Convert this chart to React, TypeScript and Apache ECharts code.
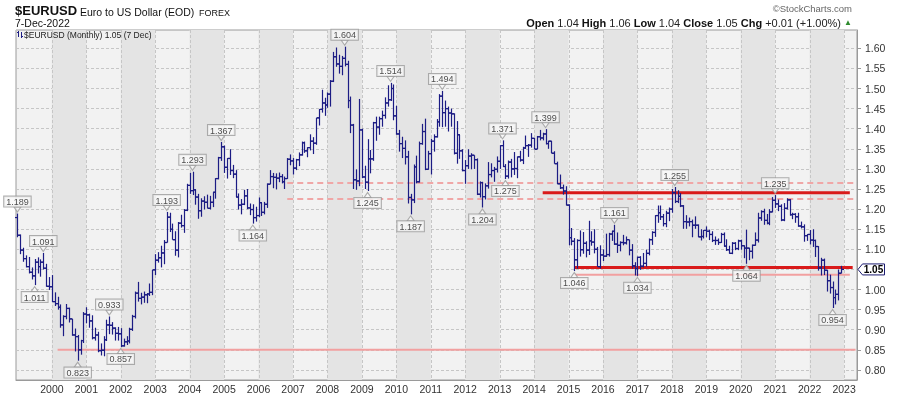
import React, { useEffect, useRef } from 'react';
import * as echarts from 'echarts';

const FONT = '"Liberation Sans", Arial, sans-serif';

// Monthly bars: [open, high, low, close]
const y1999 = [[1.179,1.189,1.130,1.135],[1.135,1.137,1.088,1.098],[1.098,1.104,1.069,1.077],[1.077,1.085,1.055,1.057],[1.057,1.081,1.040,1.043],[1.043,1.055,1.025,1.034],[1.034,1.076,1.011,1.068],[1.068,1.080,1.040,1.057],[1.057,1.075,1.032,1.068],[1.068,1.091,1.050,1.053],[1.053,1.064,1.007,1.008],[1.008,1.031,0.999,1.007]];
const y2000 = [[1.007,1.036,0.969,0.970],[0.970,0.993,0.959,0.965],[0.965,0.982,0.950,0.956],[0.956,0.963,0.905,0.912],[0.912,0.936,0.884,0.933],[0.933,0.964,0.926,0.953],[0.953,0.955,0.918,0.927],[0.927,0.927,0.885,0.887],[0.887,0.903,0.846,0.883],[0.883,0.887,0.823,0.850],[0.850,0.875,0.838,0.873],[0.873,0.944,0.867,0.939]];
const y2001 = [[0.939,0.956,0.916,0.937],[0.937,0.940,0.905,0.922],[0.922,0.936,0.876,0.880],[0.880,0.905,0.873,0.887],[0.887,0.895,0.844,0.848],[0.848,0.866,0.836,0.849],[0.849,0.884,0.834,0.875],[0.875,0.925,0.872,0.912],[0.912,0.933,0.889,0.911],[0.911,0.919,0.888,0.904],[0.904,0.906,0.873,0.891],[0.891,0.907,0.873,0.890]];
const y2002 = [[0.890,0.904,0.857,0.860],[0.860,0.878,0.858,0.870],[0.870,0.884,0.862,0.872],[0.872,0.905,0.866,0.901],[0.901,0.937,0.897,0.933],[0.933,0.995,0.928,0.991],[0.991,1.019,0.970,0.978],[0.978,0.992,0.963,0.981],[0.981,0.995,0.967,0.987],[0.987,0.991,0.966,0.989],[0.989,1.015,0.984,0.993],[0.993,1.049,0.986,1.049]];
const y2003 = [[1.049,1.088,1.036,1.073],[1.073,1.093,1.067,1.079],[1.079,1.109,1.055,1.091],[1.091,1.123,1.063,1.117],[1.117,1.193,1.117,1.180],[1.180,1.191,1.143,1.150],[1.150,1.164,1.124,1.124],[1.124,1.145,1.084,1.098],[1.098,1.168,1.080,1.165],[1.165,1.186,1.154,1.159],[1.159,1.200,1.141,1.197],[1.197,1.263,1.195,1.259]];
const y2004 = [[1.259,1.290,1.238,1.246],[1.246,1.293,1.235,1.248],[1.248,1.249,1.211,1.230],[1.230,1.238,1.176,1.196],[1.196,1.227,1.181,1.220],[1.220,1.232,1.199,1.217],[1.217,1.236,1.202,1.202],[1.202,1.233,1.199,1.217],[1.217,1.242,1.205,1.242],[1.242,1.277,1.226,1.276],[1.276,1.330,1.274,1.328],[1.328,1.367,1.320,1.355]];
const y2005 = [[1.355,1.358,1.290,1.304],[1.304,1.327,1.276,1.326],[1.326,1.349,1.285,1.296],[1.296,1.310,1.277,1.287],[1.287,1.297,1.230,1.230],[1.230,1.239,1.199,1.210],[1.210,1.225,1.187,1.212],[1.212,1.248,1.210,1.233],[1.233,1.250,1.200,1.203],[1.203,1.214,1.185,1.199],[1.199,1.212,1.164,1.179],[1.179,1.206,1.169,1.184]];
const y2006 = [[1.184,1.229,1.180,1.216],[1.216,1.216,1.183,1.192],[1.192,1.218,1.187,1.212],[1.212,1.264,1.203,1.262],[1.262,1.297,1.262,1.281],[1.281,1.290,1.252,1.279],[1.279,1.289,1.249,1.277],[1.277,1.291,1.267,1.281],[1.281,1.287,1.264,1.268],[1.268,1.281,1.250,1.276],[1.276,1.327,1.275,1.324],[1.324,1.336,1.309,1.320]];
const y2007 = [[1.320,1.327,1.286,1.302],[1.302,1.325,1.297,1.323],[1.323,1.341,1.307,1.335],[1.335,1.368,1.333,1.365],[1.365,1.368,1.340,1.345],[1.345,1.354,1.329,1.353],[1.353,1.386,1.346,1.369],[1.369,1.379,1.337,1.364],[1.364,1.427,1.360,1.427],[1.427,1.449,1.408,1.448],[1.448,1.497,1.440,1.464],[1.464,1.477,1.432,1.459]];
const y2008 = [[1.459,1.490,1.452,1.486],[1.486,1.521,1.455,1.518],[1.518,1.591,1.516,1.579],[1.579,1.602,1.554,1.561],[1.561,1.584,1.537,1.555],[1.555,1.581,1.533,1.575],[1.575,1.604,1.555,1.560],[1.560,1.569,1.451,1.470],[1.470,1.480,1.389,1.409],[1.409,1.412,1.250,1.273],[1.273,1.299,1.248,1.270],[1.270,1.474,1.257,1.397]];
const y2009 = [[1.397,1.400,1.277,1.280],[1.280,1.308,1.250,1.267],[1.267,1.374,1.245,1.325],[1.325,1.347,1.289,1.325],[1.325,1.417,1.320,1.415],[1.415,1.430,1.370,1.404],[1.404,1.430,1.385,1.425],[1.425,1.445,1.405,1.433],[1.433,1.478,1.425,1.464],[1.464,1.508,1.455,1.472],[1.472,1.514,1.469,1.500],[1.500,1.510,1.421,1.432]];
const y2010 = [[1.432,1.457,1.385,1.387],[1.387,1.397,1.343,1.363],[1.363,1.380,1.327,1.351],[1.351,1.371,1.311,1.330],[1.330,1.345,1.214,1.229],[1.229,1.238,1.187,1.223],[1.223,1.311,1.215,1.305],[1.305,1.333,1.264,1.268],[1.268,1.368,1.266,1.363],[1.363,1.412,1.360,1.393],[1.393,1.425,1.297,1.299],[1.299,1.345,1.298,1.338]];
const y2011 = [[1.338,1.375,1.286,1.369],[1.369,1.386,1.343,1.380],[1.380,1.424,1.378,1.417],[1.417,1.486,1.405,1.481],[1.481,1.494,1.404,1.440],[1.440,1.470,1.405,1.450],[1.450,1.455,1.393,1.439],[1.439,1.450,1.405,1.437],[1.437,1.438,1.336,1.339],[1.339,1.419,1.313,1.385],[1.385,1.385,1.325,1.345],[1.345,1.349,1.294,1.296]];
const y2012 = [[1.296,1.322,1.263,1.308],[1.308,1.349,1.300,1.332],[1.332,1.339,1.299,1.334],[1.334,1.334,1.300,1.323],[1.323,1.326,1.235,1.237],[1.237,1.269,1.229,1.266],[1.266,1.268,1.204,1.231],[1.231,1.264,1.224,1.258],[1.258,1.317,1.251,1.286],[1.286,1.314,1.279,1.296],[1.296,1.305,1.268,1.299],[1.299,1.331,1.291,1.319]];
const y2013 = [[1.319,1.359,1.300,1.358],[1.358,1.371,1.305,1.306],[1.306,1.312,1.275,1.282],[1.282,1.321,1.276,1.317],[1.317,1.325,1.279,1.300],[1.300,1.342,1.285,1.301],[1.301,1.331,1.277,1.330],[1.330,1.345,1.318,1.322],[1.322,1.355,1.312,1.352],[1.352,1.383,1.350,1.358],[1.358,1.362,1.330,1.359],[1.359,1.389,1.353,1.376]];
const y2014 = [[1.376,1.377,1.349,1.349],[1.349,1.382,1.349,1.380],[1.380,1.397,1.371,1.377],[1.377,1.390,1.371,1.387],[1.387,1.399,1.361,1.363],[1.363,1.370,1.350,1.369],[1.369,1.370,1.339,1.339],[1.339,1.344,1.313,1.313],[1.313,1.318,1.262,1.263],[1.263,1.286,1.250,1.253],[1.253,1.261,1.236,1.245],[1.245,1.257,1.209,1.210]];
const y2015 = [[1.210,1.212,1.110,1.129],[1.129,1.153,1.110,1.120],[1.120,1.128,1.046,1.074],[1.074,1.125,1.052,1.122],[1.122,1.147,1.082,1.099],[1.099,1.143,1.089,1.115],[1.115,1.120,1.080,1.098],[1.098,1.171,1.086,1.121],[1.121,1.145,1.109,1.118],[1.118,1.150,1.090,1.100],[1.100,1.106,1.057,1.057],[1.057,1.110,1.052,1.086]];
const y2016 = [[1.086,1.100,1.071,1.083],[1.083,1.139,1.081,1.087],[1.087,1.141,1.082,1.138],[1.138,1.146,1.121,1.145],[1.145,1.161,1.111,1.113],[1.113,1.142,1.091,1.110],[1.110,1.120,1.095,1.117],[1.117,1.136,1.110,1.116],[1.116,1.132,1.112,1.124],[1.124,1.124,1.085,1.098],[1.098,1.113,1.052,1.059],[1.059,1.068,1.035,1.052]];
const y2017 = [[1.052,1.082,1.034,1.080],[1.080,1.083,1.049,1.058],[1.058,1.091,1.055,1.065],[1.065,1.099,1.057,1.090],[1.090,1.127,1.085,1.124],[1.124,1.145,1.111,1.142],[1.142,1.185,1.131,1.184],[1.184,1.209,1.166,1.191],[1.191,1.209,1.173,1.181],[1.181,1.188,1.157,1.164],[1.164,1.196,1.155,1.190],[1.190,1.204,1.170,1.200]];
const y2018 = [[1.200,1.250,1.191,1.241],[1.241,1.255,1.215,1.219],[1.219,1.247,1.215,1.232],[1.232,1.240,1.205,1.208],[1.208,1.210,1.151,1.169],[1.169,1.185,1.151,1.168],[1.168,1.179,1.157,1.169],[1.169,1.174,1.130,1.160],[1.160,1.182,1.151,1.160],[1.160,1.162,1.130,1.131],[1.131,1.150,1.122,1.132],[1.132,1.148,1.127,1.147]];
const y2019 = [[1.147,1.157,1.130,1.145],[1.145,1.149,1.123,1.137],[1.137,1.145,1.118,1.122],[1.122,1.132,1.111,1.122],[1.122,1.127,1.111,1.117],[1.117,1.141,1.116,1.137],[1.137,1.142,1.107,1.108],[1.108,1.125,1.096,1.099],[1.099,1.109,1.089,1.090],[1.090,1.118,1.088,1.115],[1.115,1.118,1.098,1.102],[1.102,1.124,1.098,1.121]];
const y2020 = [[1.121,1.124,1.099,1.109],[1.109,1.110,1.078,1.103],[1.103,1.149,1.064,1.103],[1.103,1.104,1.073,1.095],[1.095,1.112,1.077,1.110],[1.110,1.142,1.109,1.123],[1.123,1.191,1.117,1.178],[1.178,1.197,1.171,1.194],[1.194,1.201,1.161,1.172],[1.172,1.188,1.162,1.165],[1.165,1.200,1.160,1.193],[1.193,1.230,1.192,1.222]];
const y2021 = [[1.222,1.235,1.203,1.213],[1.213,1.224,1.195,1.207],[1.207,1.212,1.170,1.173],[1.173,1.215,1.170,1.202],[1.202,1.227,1.199,1.223],[1.223,1.225,1.184,1.186],[1.186,1.191,1.175,1.187],[1.187,1.190,1.166,1.181],[1.181,1.191,1.156,1.158],[1.158,1.169,1.152,1.156],[1.156,1.162,1.119,1.134],[1.134,1.138,1.121,1.137]];
const y2022 = [[1.137,1.148,1.112,1.123],[1.123,1.150,1.106,1.122],[1.122,1.124,1.081,1.107],[1.107,1.108,1.047,1.054],[1.054,1.079,1.035,1.073],[1.073,1.077,1.036,1.048],[1.048,1.049,0.995,1.022],[1.022,1.037,0.990,1.005],[1.005,1.020,0.954,0.980],[0.980,1.000,0.963,0.988],[0.988,1.050,0.973,1.040],[1.041,1.059,1.040,1.050]];

const yearBars = [y1999,y2000,y2001,y2002,y2003,y2004,y2005,y2006,y2007,y2008,y2009,y2010,y2011,y2012,y2013,y2014,y2015,y2016,y2017,y2018,y2019,y2020,y2021,y2022];

// Category axis: months Jan 1999 .. May 2023 (last 5 empty)
const FIRST_YEAR = 1999;
const N_CATS = 293;

// swing labels [monthIndex, value]
const highLabels = [[0,1.189],[9,1.091],[32,0.933],[52,1.193],[61,1.293],[71,1.367],[114,1.604],[130,1.514],[148,1.494],[169,1.371],[184,1.399],[208,1.161],[229,1.255],[264,1.235]];
const lowLabels = [[6,1.011],[21,0.823],[36,0.857],[82,1.164],[122,1.245],[137,1.187],[162,1.204],[170,1.275],[194,1.046],[216,1.034],[254,1.064],[284,0.954]];

// horizontal reference lines
const levelValues = [0.85, 1.265, 1.225, 1.241, 1.0545, 1.037];
const levelFrom = ['2000-03', '2006-11', '2006-11', '2014-04', '2015-03', '2015-03'];
const levelTo = ['2023-05', '2023-05', '2023-05', '2023-03', '2023-04', '2023-03'];
const levelKinds = ['thin', 'dash', 'dash', 'thick', 'thick', 'thin'];

const shadedYears = [2000,2002,2004,2006,2008,2010,2012,2014,2016,2018,2020,2022];
const gridYears = [2000,2001,2002,2003,2004,2005,2006,2007,2008,2009,2010,2011,2012,2013,2014,2015,2016,2017,2018,2019,2020,2021,2022,2023];

const LAST_VALUE = 1.05;
const BAR = '#1c1c84';

export default function App() {
  const ref = useRef<HTMLDivElement>(null);
  useEffect(() => {
    if (!ref.current) return;
    const chart = echarts.init(ref.current, null, { renderer: 'svg' });

    const months: string[] = [];
    for (let i = 0; i < N_CATS; i++) {
      const y = FIRST_YEAR + Math.floor(i / 12);
      const m = (i % 12) + 1;
      months.push(`${y}-${m < 10 ? '0' + m : m}`);
    }
    const bars: number[][] = [];
    yearBars.forEach((yb) => yb.forEach((b) => bars.push([bars.length, b[0], b[1], b[2], b[3]])));

    const levelStyle = (k: string) => {
      if (k === 'thick') return { color: '#d91a1a', width: 3, type: 'solid' as any };
      if (k === 'dash') return { color: '#f0a6a6', width: 2, type: [6, 4] as any };
      return { color: '#f2a0a0', width: 2, type: 'solid' as any };
    };

    const labelBase = {
      show: true,
      distance: 0,
      formatter: (p: any) => p.value[1].toFixed(3),
      fontSize: 9,
      lineHeight: 9,
      fontFamily: FONT,
      color: '#222',
      backgroundColor: '#f7f7f7',
      borderColor: '#9a9a9a',
      borderWidth: 1,
      padding: [1, 2, 0, 2],
    };

    const option: any = {
      animation: false,
      grid: { left: 16, right: 43, top: 30, bottom: 16, show: true, backgroundColor: '#f2f2f2', borderColor: '#9a9a9a', borderWidth: 1 },
      xAxis: {
        type: 'category',
        data: months,
        boundaryGap: true,
        axisLine: { show: true, lineStyle: { color: '#9a9a9a' } },
        axisTick: { show: false },
        splitLine: { show: false },
        axisLabel: {
          interval: (i: number) => i > 0 && i % 12 === 0,
          formatter: (v: string) => v.slice(0, 4),
          fontSize: 10.5,
          fontFamily: FONT,
          color: '#333',
          margin: 3,
        },
      },
      yAxis: {
        type: 'value',
        position: 'right',
        min: 0.775,
        max: 1.6455,
        splitNumber: 17,
        minInterval: 0.05,
        maxInterval: 0.05,
        axisLine: { show: true, lineStyle: { color: '#9a9a9a' } },
        axisTick: { show: true, length: 4, lineStyle: { color: '#9a9a9a' } },
        splitLine: { show: true, lineStyle: { color: '#c6c6c6', type: [3, 2] } },
        axisLabel: {
          showMinLabel: false,
          showMaxLabel: false,
          // the 1.05 tick label sits under the last-value marker, as in the reference
          formatter: (v: number) =>
            Math.abs(v * 20 - Math.round(v * 20)) < 1e-6 && Math.abs(v - LAST_VALUE) > 1e-6 ? v.toFixed(2) : '',
          fontSize: 10.5,
          fontFamily: FONT,
          color: '#333',
          margin: 8,
        },
      },
      series: [
        {
          type: 'custom',
          silent: true,
          z: 0,
          data: shadedYears.map((y) => [(y - FIRST_YEAR) * 12]),
          encode: { x: 0 },
          renderItem: (params: any, api: any) => {
            const s = api.value(0);
            const a = api.coord([s, 1]);
            const b = api.coord([s + 12, 1]);
            const cs = params.coordSys;
            return { type: 'rect', shape: { x: a[0], y: cs.y, width: b[0] - a[0], height: cs.height }, style: { fill: '#e4e4e4' } };
          },
        },
        {
          type: 'custom',
          silent: true,
          z: 1,
          data: gridYears.map((y) => [(y - FIRST_YEAR) * 12]),
          encode: { x: 0 },
          renderItem: (params: any, api: any) => {
            const a = api.coord([api.value(0), 1]);
            const cs = params.coordSys;
            const x = Math.round(a[0]) + 0.5;
            return { type: 'line', shape: { x1: x, y1: cs.y, x2: x, y2: cs.y + cs.height }, style: { stroke: '#c6c6c6', lineWidth: 1, lineDash: [3, 2] } };
          },
        },
        ...levelValues.map((v, i) => ({
          type: 'line',
          silent: true,
          z: 2,
          symbol: 'none',
          data: [[levelFrom[i], v], [levelTo[i], v]],
          lineStyle: levelStyle(levelKinds[i]),
        })),
        {
          type: 'custom',
          silent: true,
          z: 3,
          data: bars,
          encode: { x: 0, y: [1, 2, 3, 4] },
          renderItem: (params: any, api: any) => {
            const i = api.value(0);
            const o = api.coord([i, api.value(1)]);
            const h = api.coord([i, api.value(2)]);
            const l = api.coord([i, api.value(3)]);
            const c = api.coord([i, api.value(4)]);
            const x = Math.round(o[0]) + 0.5;
            const st = { stroke: BAR, lineWidth: 1.2 };
            return {
              type: 'group',
              children: [
                { type: 'line', shape: { x1: x, y1: h[1], x2: x, y2: l[1] }, style: st },
                { type: 'line', shape: { x1: x - 2.5, y1: o[1], x2: x, y2: o[1] }, style: st },
                { type: 'line', shape: { x1: x, y1: c[1], x2: x + 2.5, y2: c[1] }, style: st },
              ],
            };
          },
        },
        {
          type: 'scatter',
          silent: true,
          z: 5,
          data: highLabels,
          symbol: 'triangle',
          symbolSize: [7, 5],
          symbolRotate: 180,
          symbolOffset: [0, -4],
          itemStyle: { color: '#f7f7f7', borderColor: '#9a9a9a', borderWidth: 1 },
          label: { ...labelBase, position: 'top' },
          emphasis: { disabled: true },
        },
        {
          type: 'scatter',
          silent: true,
          z: 5,
          data: lowLabels,
          symbol: 'triangle',
          symbolSize: [7, 5],
          symbolOffset: [0, 4],
          itemStyle: { color: '#f7f7f7', borderColor: '#9a9a9a', borderWidth: 1 },
          label: { ...labelBase, position: 'bottom' },
          emphasis: { disabled: true },
        },
      ],
    };
    chart.setOption(option);

    const last = bars[bars.length - 1];
    const py = chart.convertToPixel({ yAxisIndex: 0 }, LAST_VALUE) as unknown as number;
    const f2 = (v: number) => v.toFixed(2);
    chart.setOption({
      graphic: [
        { type: 'text', x: 15, y: 10.5, style: { text: '$EURUSD', fontSize: 13, lineHeight: 12, fontWeight: 'bold', fontFamily: FONT, fill: '#111', verticalAlign: 'middle' } },
        { type: 'text', x: 80, y: 12, style: { text: 'Euro to US Dollar (EOD)', fontSize: 10.5, lineHeight: 11, fontFamily: FONT, fill: '#111', verticalAlign: 'middle' } },
        { type: 'text', x: 199, y: 12.5, style: { text: 'FOREX', fontSize: 9, lineHeight: 9, fontFamily: FONT, fill: '#111', verticalAlign: 'middle' } },
        { type: 'text', x: 15, y: 23, style: { text: '7-Dec-2022', fontSize: 10.5, lineHeight: 10, fontFamily: FONT, fill: '#111', verticalAlign: 'middle' } },
        { type: 'text', x: 852, y: 8.5, style: { text: '©StockCharts.com', fontSize: 9.5, lineHeight: 10, fontFamily: FONT, fill: '#666', align: 'right', verticalAlign: 'middle' } },
        {
          type: 'text', x: 852, y: 22.5,
          style: {
            text: `{b|Open} ${f2(last[1])} {b|High} ${f2(last[2])} {b|Low} ${f2(last[3])} {b|Close} ${f2(last[4])} {b|Chg} +0.01 (+1.00%) {g|▲}`,
            fontSize: 11, lineHeight: 11, fontFamily: FONT, fill: '#222', align: 'right', verticalAlign: 'middle',
            rich: {
              b: { fontWeight: 'bold', fontSize: 11, lineHeight: 11, fontFamily: FONT, fill: '#111' },
              g: { fontSize: 8, lineHeight: 11, fontFamily: FONT, fill: '#2e8b2e' },
            },
          },
        },
        { type: 'line', shape: { x1: 18.5, y1: 31, x2: 18.5, y2: 37 }, style: { stroke: BAR, lineWidth: 1 } },
        { type: 'line', shape: { x1: 17, y1: 32.5, x2: 18.5, y2: 32.5 }, style: { stroke: BAR, lineWidth: 1 } },
        { type: 'line', shape: { x1: 21.5, y1: 32, x2: 21.5, y2: 38 }, style: { stroke: BAR, lineWidth: 1 } },
        { type: 'line', shape: { x1: 21.5, y1: 36.5, x2: 23, y2: 36.5 }, style: { stroke: BAR, lineWidth: 1 } },
        { type: 'text', x: 24, y: 34.5, style: { text: '$EURUSD (Monthly) 1.05 (7 Dec)', fontSize: 8.5, lineHeight: 9, fontFamily: FONT, fill: '#222', verticalAlign: 'middle' } },
        {
          type: 'polygon', z: 100,
          shape: { points: [[858, py], [862.5, py - 5.5], [884.5, py - 5.5], [884.5, py + 5.5], [862.5, py + 5.5]] },
          style: { fill: '#ffffff', stroke: '#1a1a70', lineWidth: 1 },
        },
        { type: 'text', z: 101, x: 873.5, y: py, style: { text: LAST_VALUE.toFixed(2), fontSize: 10, lineHeight: 10, fontWeight: 'bold', fontFamily: FONT, fill: '#000', align: 'center', verticalAlign: 'middle' } },
      ],
    });

    return () => chart.dispose();
  }, []);
  return <div ref={ref} style={{ position: 'fixed', left: 0, top: 0, width: 900, height: 396 }} />;
}
